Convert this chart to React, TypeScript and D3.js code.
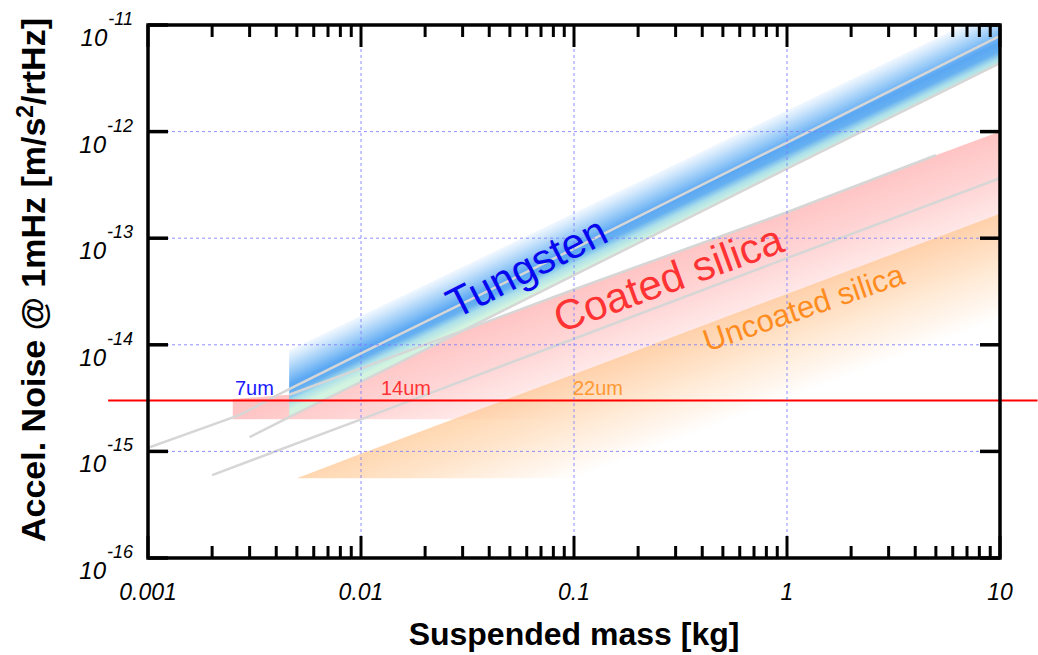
import { useRef, useEffect } from "react";
import * as d3 from "d3";

const W = 1038;
const H = 655;
const FONT = "'Liberation Sans', Arial, Helvetica, sans-serif";

// axes
const massTicks = [0.001, 0.01, 0.1, 1, 10];
const massTickLabels = ["0.001", "0.01", "0.1", "1", "10"];
const noiseTicks = [1e-16, 1e-15, 1e-14, 1e-13, 1e-12, 1e-11];
const noiseTickExps = ["-16", "-15", "-14", "-13", "-12", "-11"];

// tungsten band
const tungstenTopMass = [0.0046, 0.01, 0.1, 1, 10];
const tungstenTopNoise = [8.9e-15, 1.87e-14, 1.72e-13, 1.58e-12, 1.46e-11];
const tungstenLowMass = [0.003, 0.0046, 0.01, 0.1, 1, 10];
const tungstenLowNoise = [1.36e-15, 2.1e-15, 4.5e-15, 4.5e-14, 4.5e-13, 4.4e-12];
const tungstenMidMass = [0.001, 0.0027, 0.0042, 0.01, 0.1, 1, 10];
const tungstenMidNoise = [1.08e-15, 2.2e-15, 3.5e-15, 8.3e-15, 8.0e-14, 7.9e-13, 7.9e-12];

// coated silica band
const coatedTopMass = [0.0025, 0.0046, 0.01, 0.1, 1, 5, 10];
const coatedTopNoise = [3.1e-15, 3.4e-15, 6.0e-15, 3.3e-14, 1.75e-13, 6.0e-13, 1.0e-12];
const coatedMidMass = [0.002, 0.01, 0.1, 1, 10];
const coatedMidNoise = [6.0e-16, 2.0e-15, 1.14e-14, 6.5e-14, 3.66e-13];
const coatedFloor = 2.0e-15;

// uncoated silica band
const uncoatedTopMass = [0.005, 0.01, 0.1, 1, 10];
const uncoatedTopNoise = [5.6e-16, 9.5e-16, 5.3e-15, 3.0e-14, 1.7e-13];
const uncoatedFloor = 5.6e-16;

// requirement line
const requirementMass = [0.00065, 15];
const requirementNoise = [3e-15, 3e-15];

// labels
const bandLabels = ["Tungsten", "Coated silica", "Uncoated silica"];
const bandLabelMass = [0.0643, 0.292, 1.24];
const bandLabelNoise = [4.06e-14, 3.13e-14, 1.8e-14];
const fiberLabels = ["7um", "14um", "22um"];
const fiberLabelMass = [0.00256, 0.0124, 0.0989];
const fiberLabelNoise = 3.38e-15;

function App() {
  const svgRef = useRef<SVGSVGElement>(null);

  useEffect(() => {
    const left = 148, right = 1000, top = 25, bottom = 558;
    const svg = d3.select(svgRef.current);
    svg.selectAll("*").remove();

    const x = d3.scaleLog().domain([0.001, 10]).range([left, right]);
    const y = d3.scaleLog().domain([1e-16, 1e-11]).range([bottom, top]);

    const defs = svg.append("defs");
    defs.append("clipPath").attr("id", "plotClip")
      .append("rect").attr("x", left).attr("y", top)
      .attr("width", right - left).attr("height", bottom - top);

    const pts = (ms: number[], ns: number[]) => ms.map((m, i) => [x(m), y(ns[i])] as [number, number]);
    const line = d3.line<[number, number]>();

    // gradient perpendicular to a band's upper edge
    const bandGradient = (id: string, ms: number[], ns: number[], depth: number, stops: [number, string][]) => {
      const p0 = [x(ms[1]), y(ns[1])];
      const p1 = [x(ms[ms.length - 2]), y(ns[ns.length - 2])];
      const len = Math.hypot(p1[0] - p0[0], p1[1] - p0[1]);
      const dx = (p1[0] - p0[0]) / len, dy = (p1[1] - p0[1]) / len;
      const L = depth * dx; // vertical depth -> perpendicular depth
      const g = defs.append("linearGradient").attr("id", id)
        .attr("gradientUnits", "userSpaceOnUse")
        .attr("x1", p0[0]).attr("y1", p0[1])
        .attr("x2", p0[0] - dy * L).attr("y2", p0[1] + dx * L);
      stops.forEach(([o, c]) => g.append("stop").attr("offset", o).attr("stop-color", c));
    };

    bandGradient("gTungsten", tungstenTopMass, tungstenTopNoise, 60, [
      [0, "#f2f8ff"], [0.14, "#d2e8fc"], [0.38, "#92c7f7"], [0.58, "#5aa7f3"],
      [0.72, "#66b0f1"], [0.85, "#ade0ea"], [1, "#d2f3df"],
    ]);
    bandGradient("gCoated", coatedTopMass, coatedTopNoise, 135, [
      [0, "#ffc4c4"], [0.35, "#ffd6d6"], [0.7, "#ffeded"], [1, "#ffffff"],
    ]);
    bandGradient("gUncoated", uncoatedTopMass, uncoatedTopNoise, 105, [
      [0, "#ffc893"], [0.4, "#ffdbb8"], [0.8, "#fff2e6"], [1, "#ffffff"],
    ]);

    const plot = svg.append("g").attr("clip-path", "url(#plotClip)");

    // coated silica band
    const coatedPoly = [
      ...pts(coatedTopMass, coatedTopNoise),
      [x(10), y(coatedFloor)], [x(coatedTopMass[0]), y(coatedFloor)],
    ] as [number, number][];
    plot.append("path").attr("d", line(coatedPoly) + "Z")
      .attr("fill", "url(#gCoated)");

    // tungsten band
    const tungstenPoly = [
      ...pts(tungstenTopMass, tungstenTopNoise),
      ...pts(tungstenLowMass.slice(1), tungstenLowNoise.slice(1)).reverse(),
    ];
    plot.append("path").attr("d", line(tungstenPoly) + "Z")
      .attr("fill", "url(#gTungsten)");

    // gray model lines
    const grayLines = [
      pts(tungstenMidMass, tungstenMidNoise),
      pts(tungstenLowMass, tungstenLowNoise),
      pts(coatedTopMass.slice(1, -1), coatedTopNoise.slice(1, -1)),
      pts(coatedMidMass, coatedMidNoise),
    ];
    grayLines.forEach(l => plot.append("path").attr("d", line(l))
      .attr("fill", "none").attr("stroke", "#d6d6d6").attr("stroke-width", 2.5));

    // requirement line
    svg.append("path").attr("d", line(pts(requirementMass, requirementNoise)))
      .attr("stroke", "#ff0000").attr("stroke-width", 2).attr("fill", "none");

    // uncoated silica band
    const uncoatedPoly = [
      ...pts(uncoatedTopMass, uncoatedTopNoise),
      [x(10), y(uncoatedFloor)],
    ] as [number, number][];
    plot.append("path").attr("d", line(uncoatedPoly) + "Z")
      .attr("fill", "url(#gUncoated)").attr("fill-opacity", 0.72);

    // grid
    const grid = svg.append("g").attr("stroke", "#7b7bff").attr("stroke-width", 1)
      .attr("stroke-dasharray", "3,3").attr("stroke-opacity", 0.85);
    massTicks.slice(1, -1).forEach(m =>
      grid.append("line").attr("x1", x(m)).attr("x2", x(m)).attr("y1", top).attr("y2", bottom));
    noiseTicks.slice(1, -1).forEach(n =>
      grid.append("line").attr("x1", left).attr("x2", right).attr("y1", y(n)).attr("y2", y(n)));

    // band labels
    const bandColors = ["#0808ee", "#ff3333", "#ff8c1f"];
    const bandSizes = [42, 42, 31];
    const bandAngles = [-27, -20, -19];
    bandLabels.forEach((t, i) => {
      svg.append("text")
        .attr("transform", `translate(${x(bandLabelMass[i])},${y(bandLabelNoise[i])}) rotate(${bandAngles[i]})`)
        .attr("text-anchor", "middle").attr("font-family", FONT)
        .attr("font-size", bandSizes[i]).attr("fill", bandColors[i]).text(t);
    });
    const fiberColors = ["#1a1aff", "#ff3333", "#ff9933"];
    fiberLabels.forEach((t, i) => {
      svg.append("text").attr("x", x(fiberLabelMass[i])).attr("y", y(fiberLabelNoise))
        .attr("font-family", FONT).attr("font-size", 20).attr("fill", fiberColors[i]).text(t);
    });

    // frame and ticks
    const axes = svg.append("g").attr("stroke", "#000").attr("stroke-linecap", "butt");
    axes.append("rect").attr("x", left).attr("y", top).attr("width", right - left)
      .attr("height", bottom - top).attr("fill", "none").attr("stroke-width", 3.5);
    const minor = x.ticks().filter(m => !massTicks.some(t => Math.abs(t - m) / t < 1e-6));
    minor.forEach(m => {
      axes.append("line").attr("x1", x(m)).attr("x2", x(m)).attr("y1", top).attr("y2", top + 12).attr("stroke-width", 3);
      axes.append("line").attr("x1", x(m)).attr("x2", x(m)).attr("y1", bottom).attr("y2", bottom - 12).attr("stroke-width", 3);
    });
    massTicks.forEach(m => {
      axes.append("line").attr("x1", x(m)).attr("x2", x(m)).attr("y1", top).attr("y2", top + 22).attr("stroke-width", 3);
      axes.append("line").attr("x1", x(m)).attr("x2", x(m)).attr("y1", bottom).attr("y2", bottom - 22).attr("stroke-width", 3);
    });
    noiseTicks.forEach(n => {
      axes.append("line").attr("x1", left).attr("x2", left + 20).attr("y1", y(n)).attr("y2", y(n)).attr("stroke-width", 3.5);
      axes.append("line").attr("x1", right).attr("x2", right - 20).attr("y1", y(n)).attr("y2", y(n)).attr("stroke-width", 3.5);
    });

    // tick labels
    massTickLabels.forEach((t, i) => {
      svg.append("text").attr("x", x(massTicks[i])).attr("y", bottom + 42)
        .attr("text-anchor", "middle").attr("font-family", FONT).attr("font-style", "italic")
        .attr("font-size", 23).text(t);
    });
    noiseTickExps.forEach((e, i) => {
      const t = svg.append("text").attr("x", left - 15).attr("y", y(noiseTicks[i]) + 21)
        .attr("text-anchor", "end").attr("font-family", FONT).attr("font-style", "italic")
        .attr("font-size", 24);
      t.append("tspan").text("10");
      t.append("tspan").attr("dy", -21).attr("dx", 1).attr("font-size", 18).text(e);
    });

    // axis titles
    svg.append("text").attr("x", 574).attr("y", 645)
      .attr("text-anchor", "middle").attr("font-family", FONT).attr("font-weight", "bold")
      .attr("font-size", 32).text("Suspended mass [kg]");
    const yt = svg.append("text").attr("transform", `translate(45,280) rotate(-90)`)
      .attr("text-anchor", "middle").attr("font-family", FONT).attr("font-weight", "bold")
      .attr("font-size", 34);
    yt.append("tspan").text("Accel. Noise @ 1mHz [m/s");
    yt.append("tspan").attr("dy", -12).attr("font-size", 23).text("2");
    yt.append("tspan").attr("dy", 12).text("/rtHz]");
  }, []);

  return (
    <svg ref={svgRef} width={W} height={H}
      style={{ position: "absolute", left: 0, top: 0, background: "#fff" }} />
  );
}

export default App;
